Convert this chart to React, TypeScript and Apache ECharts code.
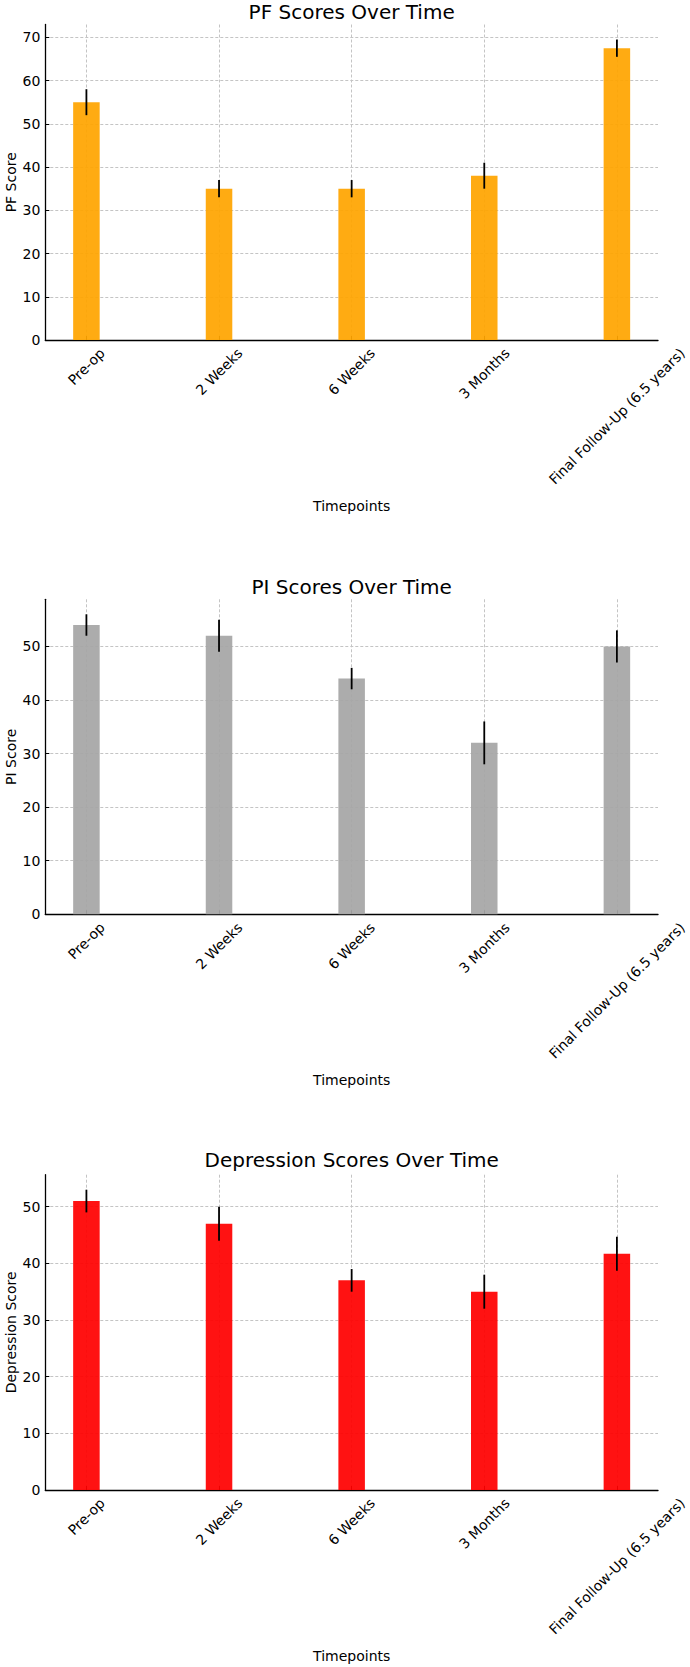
import React, { useEffect, useRef } from "react";
import * as echarts from "echarts";

// Timepoints shared by all three panels
const categories = ["Pre-op", "2 Weeks", "6 Weeks", "3 Months", "Final Follow-Up (6.5 years)"];

// PF scores (mean and error)
const pfScores = [55, 35, 35, 38, 67.5];
const pfErrors = [3, 2, 2, 3, 2];

// PI scores
const piScores = [54, 52, 44, 32, 50];
const piErrors = [2, 3, 2, 4, 3];

// Depression scores
const depScores = [51, 47, 37, 35, 41.7];
const depErrors = [2, 3, 2, 3, 3];

const yTicks = [0, 10, 20, 30, 40, 50, 60, 70];

const FONT = "DejaVu Sans";

type Panel = {
  title: string;
  yName: string;
  scores: number[];
  errors: number[];
  color: string;
  top: number;
  axisY: number;
  titleTop: number;
};

const PAGE_W = 690;
const PAGE_H = 1667;
const GRID_LEFT = 45.3;
const GRID_RIGHT = 32;
const X_MIN = -0.31;
const X_MAX = 4.31;

export default function App() {
  const ref = useRef<HTMLDivElement>(null);

  useEffect(() => {
    if (!ref.current) return;
    const chart = echarts.init(ref.current, null, { renderer: "svg" });

    const panels: Panel[] = [
      { title: "PF Scores Over Time", yName: "PF Score", scores: pfScores, errors: pfErrors, color: "#FFA500", top: 24.5, axisY: 340, titleTop: 2 },
      { title: "PI Scores Over Time", yName: "PI Score", scores: piScores, errors: piErrors, color: "#a6a6a6", top: 599.3, axisY: 914.3, titleTop: 576.5 },
      { title: "Depression Scores Over Time", yName: "Depression Score", scores: depScores, errors: depErrors, color: "#FF0000", top: 1174.7, axisY: 1490, titleTop: 1150 },
    ];

    // measure tick label widths so rotated labels are centred under their tick
    const ctx = document.createElement("canvas").getContext("2d")!;
    ctx.font = `14px "${FONT}"`;
    const rich: Record<string, any> = {};
    categories.forEach((c, i) => {
      const L = ctx.measureText(c).width;
      const P = 0.5 * (L + 16);
      rich["c" + i] = { padding: [P, P, 0, 0], fontSize: 14, fontFamily: FONT, color: "#000" };
    });

    const plotW = PAGE_W - GRID_LEFT - GRID_RIGHT;
    const barW = (0.2 * plotW) / (X_MAX - X_MIN);
    const titleCenter = GRID_LEFT + plotW / 2;

    const grid: any[] = [];
    const xAxis: any[] = [];
    const yAxis: any[] = [];
    const title: any[] = [];
    const series: any[] = [];

    const gridLine = { show: true, lineStyle: { color: "#c4c4c4", width: 1, type: [3, 2] } };

    panels.forEach((p, i) => {
      const yMax = Math.max(...p.scores.map((s, k) => s + p.errors[k])) * 1.05;
      const ticks = yTicks.filter((t) => t <= yMax);
      grid.push({
        left: GRID_LEFT,
        right: GRID_RIGHT,
        top: p.top,
        bottom: PAGE_H - p.axisY,
        containLabel: false,
        outerBoundsMode: "none",
      });
      title.push({
        text: p.title,
        left: titleCenter,
        textAlign: "center",
        top: p.titleTop,
        padding: 0,
        textStyle: { fontSize: 20, fontWeight: "normal", color: "#000", fontFamily: FONT },
      });
      xAxis.push({
        type: "value",
        gridIndex: i,
        min: X_MIN,
        max: X_MAX,
        name: "Timepoints",
        nameLocation: "middle",
        nameGap: 159,
        nameMoveOverlap: false,
        nameTextStyle: { fontSize: 14, color: "#000", fontFamily: FONT },
        axisLine: { show: true, onZero: false, lineStyle: { color: "#000", width: 1.3 } },
        axisTick: { show: true, inside: true, length: 4, customValues: [0, 1, 2, 3, 4], lineStyle: { color: "#000", width: 1 } },
        axisLabel: {
          customValues: [0, 1, 2, 3, 4],
          rotate: 45,
          align: "center",
          verticalAlign: "middle",
          margin: 5,
          fontSize: 14,
          fontFamily: FONT,
          color: "#000",
          formatter: (v: number) => `{c${Math.round(v)}|${categories[Math.round(v)]}}`,
          rich,
        },
        splitLine: gridLine,
      });
      yAxis.push({
        type: "value",
        gridIndex: i,
        min: 0,
        max: yMax,
        name: p.yName,
        nameLocation: "middle",
        nameGap: 27,
        nameMoveOverlap: false,
        nameTextStyle: { fontSize: 14, color: "#000", fontFamily: FONT },
        axisLine: { show: true, onZero: false, lineStyle: { color: "#000", width: 1.3 } },
        axisTick: { show: true, inside: true, length: 4, customValues: ticks, lineStyle: { color: "#000", width: 1 } },
        axisLabel: { customValues: ticks, margin: 5, fontSize: 14, fontFamily: FONT, color: "#000" },
        splitLine: gridLine,
      });
      series.push({
        type: "bar",
        xAxisIndex: i,
        yAxisIndex: i,
        barWidth: barW,
        itemStyle: { color: p.color, opacity: 0.93 },
        data: p.scores.map((s, k) => [k, s]),
      });
      series.push({
        type: "custom",
        xAxisIndex: i,
        yAxisIndex: i,
        encode: { x: 0, y: [1, 2] },
        data: p.scores.map((s, k) => [k, s - p.errors[k], s + p.errors[k]]),
        z: 5,
        renderItem: (_params: any, api: any) => {
          const x = api.value(0);
          const a = api.coord([x, api.value(1)]);
          const b = api.coord([x, api.value(2)]);
          return {
            type: "line",
            shape: { x1: a[0], y1: a[1], x2: b[0], y2: b[1] },
            style: { stroke: "#000", lineWidth: 1.8 },
          };
        },
      });
    });

    chart.setOption({
      animation: false,
      backgroundColor: "#fff",
      textStyle: { fontFamily: FONT },
      title,
      grid,
      xAxis,
      yAxis,
      series,
    });

    return () => chart.dispose();
  }, []);

  return (
    <div
      ref={ref}
      style={{ position: "absolute", left: 0, top: 0, width: PAGE_W, height: PAGE_H, background: "#fff" }}
    />
  );
}
